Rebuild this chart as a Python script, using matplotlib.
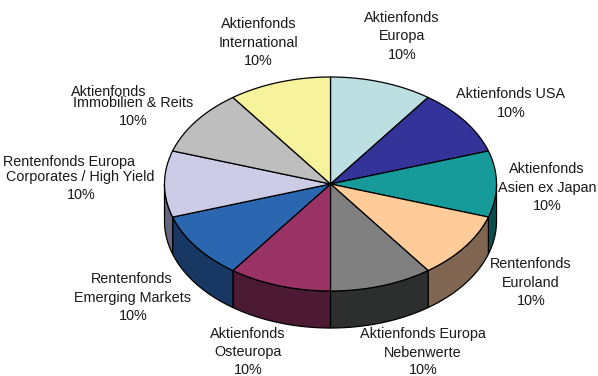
import numpy as np
import matplotlib
matplotlib.use("Agg")
import matplotlib.pyplot as plt
from matplotlib.patches import Polygon

# Fund allocation, clockwise from twelve o'clock
funds = [
    "Aktienfonds\nEuropa",
    "Aktienfonds USA",
    "Aktienfonds\nAsien ex Japan",
    "Rentenfonds\nEuroland",
    "Aktienfonds Europa\nNebenwerte",
    "Aktienfonds\nOsteuropa",
    "Rentenfonds\nEmerging Markets",
    "Rentenfonds Europa\nCorporates / High Yield",
    "Aktienfonds\nImmobilien & Reits",
    "Aktienfonds\nInternational",
]
shares = [10, 10, 10, 10, 10, 10, 10, 10, 10, 10]

top_colors = ["#BCE0E2", "#333399", "#169A9A", "#FFCC99", "#808080",
              "#993366", "#2A67B0", "#CCCCE6", "#BEBEBE", "#F7F29C"]
side_colors = ["#5E7071", "#1A1A4D", "#0B4D4D", "#806650", "#2D2F2E",
               "#4D1A33", "#183763", "#66667F", "#5F5F5F", "#7C794E"]

# Each line of a label is placed on its own: (x centre, y centre) per line
line_anchors = [
    [(402, 17), (402, 35), (402, 54)],
    [(511, 93), (511, 112)],
    [(547, 168), (547, 187), (547, 205)],
    [(531, 263), (531, 282), (531, 300)],
    [(423, 333), (423, 352), (423, 369.4)],
    [(248, 333), (248, 351), (248, 369.4)],
    [(132, 278), (132, 297), (133, 315)],
    [(69, 161), (80, 176), (81, 194)],
    [(109, 91), (133, 102), (133, 120)],
    [(259, 23), (258, 42), (258, 60)],
]

CX, CY, RX, RY, DEPTH = 330.5, 184, 166, 107, 37

plt.rcParams["font.family"] = ["Liberation Sans", "DejaVu Sans"]
fig = plt.figure(figsize=(5.98, 3.76), dpi=100)
ax = fig.add_axes([0, 0, 1, 1])
ax.set_xlim(0, 598)
ax.set_ylim(376, 0)
ax.axis("off")


def rim(a0, a1, dy=0.0):
    """Points along the ellipse rim; angles run clockwise from the top."""
    t = np.linspace(a0, a1, 60)
    return np.column_stack([CX + RX * np.sin(t), CY + dy - RY * np.cos(t)])


edges = np.cumsum([0] + shares) / sum(shares) * 2 * np.pi

# Side wall: only the part of each slice facing the viewer
for i in range(len(shares)):
    a0, a1 = max(edges[i], np.pi / 2), min(edges[i + 1], 3 * np.pi / 2)
    if a1 <= a0:
        continue
    wall = np.vstack([rim(a0, a1), rim(a0, a1, DEPTH)[::-1]])
    ax.add_patch(Polygon(wall, closed=True, facecolor=side_colors[i],
                         edgecolor="black", linewidth=0.9, joinstyle="round"))

# Top face
for i in range(len(shares)):
    face = np.vstack([[CX, CY], rim(edges[i], edges[i + 1])])
    ax.add_patch(Polygon(face, closed=True, facecolor=top_colors[i],
                         edgecolor="black", linewidth=0.9, joinstyle="round"))

# Labels
for name, share, anchors in zip(funds, shares, line_anchors):
    for line, (x, y) in zip(name.split("\n") + [f"{share}%"], anchors):
        ax.text(x, y + 0.6, line, ha="center", va="center", fontsize=10.4,
                color="#1a1a1a")

fig.savefig("out.png", dpi=100, facecolor="white")
